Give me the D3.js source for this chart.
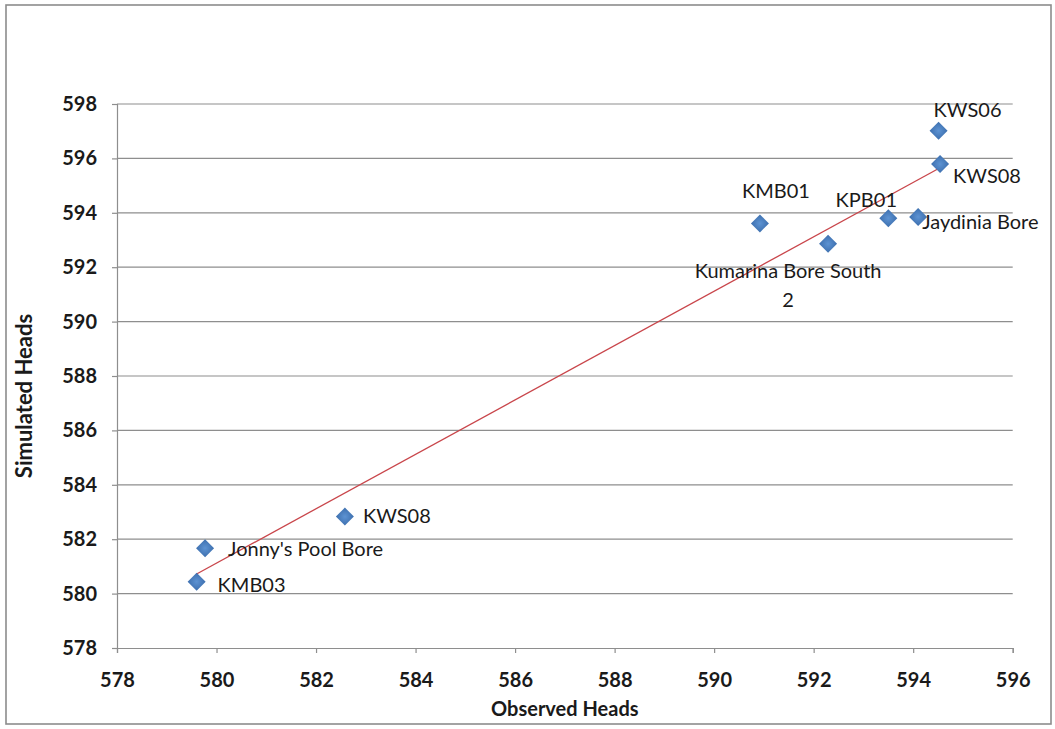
<!DOCTYPE html>
<html>
<head>
<meta charset="utf-8">
<script src="https://cdn.jsdelivr.net/npm/d3@7"></script>
<style>
  body { margin: 0; background: #fff; }
  svg { display: block; }
</style>
</head>
<body>
<svg id="chart" width="1055" height="729"></svg>
<script>
// Bore names with observed vs simulated groundwater heads
const wells = ["KMB03", "Jonny's Pool Bore", "KWS08", "KMB01", "Kumarina Bore South\n2", "KPB01", "Jaydinia Bore", "KWS06", "KWS08"];
const observed  = [579.60, 579.77, 582.58, 590.92, 592.29, 593.50, 594.10, 594.51, 594.54];
const simulated = [580.44, 581.67, 582.83, 593.61, 592.86, 593.80, 593.85, 597.02, 595.79];

const xTicks = [578, 580, 582, 584, 586, 588, 590, 592, 594, 596];
const yTicks = [578, 580, 582, 584, 586, 588, 590, 592, 594, 596, 598];

const xTitle = "Observed Heads";
const yTitle = "Simulated Heads";

// Where each bore label sits relative to its marker
const labelPlacement = [
  { anchor: "start",  dx: 21,  dy: 10 },
  { anchor: "start",  dx: 23,  dy: 8 },
  { anchor: "start",  dx: 18,  dy: 6 },
  { anchor: "middle", dx: 16,  dy: -25 },
  { anchor: "middle", dx: -40, dy: 34 },
  { anchor: "middle", dx: -22, dy: -11 },
  { anchor: "start",  dx: 4,   dy: 12 },
  { anchor: "middle", dx: 29,  dy: -14 },
  { anchor: "start",  dx: 13,  dy: 19 }
];

const svg = d3.select("#chart");
const W = 1055, H = 729;
const plot = { left: 117, right: 1012.7, top: 104, bottom: 648 };

const font = "Lato, 'Open Sans', sans-serif";
const gridColor = "#8e8e8e";
const textColor = "#1a1a1a";

// Outer chart frame
svg.append("rect")
  .attr("x", 6).attr("y", 5)
  .attr("width", W - 10).attr("height", H - 10)
  .attr("fill", "#fff")
  .attr("stroke", "#8c8c8c")
  .attr("stroke-width", 1.6);

const x = d3.scaleLinear().domain([578, 596]).range([plot.left, plot.right]);
const y = d3.scaleLinear().domain([578, 598]).range([plot.bottom, plot.top]);

// Horizontal gridlines
svg.append("g")
  .selectAll("line")
  .data(yTicks.slice(1))
  .join("line")
  .attr("x1", plot.left).attr("x2", plot.right)
  .attr("y1", d => y(d)).attr("y2", d => y(d))
  .attr("stroke", gridColor)
  .attr("stroke-width", 1.2);

// Y axis
const yAxis = svg.append("g")
  .attr("transform", `translate(${plot.left},0)`)
  .call(d3.axisLeft(y).tickValues(yTicks).tickSize(5).tickPadding(15).tickFormat(d3.format("d")));
yAxis.select(".domain").attr("stroke", gridColor).attr("stroke-width", 1.2);
yAxis.selectAll(".tick line").attr("stroke", gridColor).attr("stroke-width", 1.2);
yAxis.selectAll(".tick text")
  .attr("font-family", font).attr("font-size", 20).attr("font-weight", 700)
  .attr("fill", textColor);

// X axis
const xAxis = svg.append("g")
  .attr("transform", `translate(0,${plot.bottom})`)
  .call(d3.axisBottom(x).tickValues(xTicks).tickSize(5).tickPadding(20).tickFormat(d3.format("d")));
xAxis.select(".domain").attr("stroke", gridColor).attr("stroke-width", 1.2);
xAxis.selectAll(".tick line").attr("stroke", gridColor).attr("stroke-width", 1.2);
xAxis.selectAll(".tick text")
  .attr("font-family", font).attr("font-size", 20).attr("font-weight", 700)
  .attr("fill", textColor);

// Axis titles
svg.append("text")
  .attr("x", (plot.left + plot.right) / 2).attr("y", 716)
  .attr("text-anchor", "middle")
  .attr("font-family", font).attr("font-size", 20).attr("font-weight", 700)
  .attr("fill", textColor)
  .text(xTitle);

svg.append("text")
  .attr("transform", "translate(32,396) rotate(-90)")
  .attr("text-anchor", "middle")
  .attr("font-family", font).attr("font-size", 22).attr("font-weight", 700)
  .attr("fill", textColor)
  .text(yTitle);

// Linear least-squares trendline across the observed range
const mx = d3.mean(observed), my = d3.mean(simulated);
const sxy = d3.sum(observed, (v, i) => (v - mx) * (simulated[i] - my));
const sxx = d3.sum(observed, v => (v - mx) * (v - mx));
const slope = sxy / sxx, intercept = my - slope * mx;
const [xmin, xmax] = d3.extent(observed);
svg.append("line")
  .attr("x1", x(xmin)).attr("y1", y(slope * xmin + intercept))
  .attr("x2", x(xmax)).attr("y2", y(slope * xmax + intercept))
  .attr("stroke", "#c9464b")
  .attr("stroke-width", 1.3);

// Diamond markers
const defs = svg.append("defs");
const grad = defs.append("radialGradient").attr("id", "markerFill");
grad.append("stop").attr("offset", "0%").attr("stop-color", "#5d93d3");
grad.append("stop").attr("offset", "100%").attr("stop-color", "#3d6fae");

const points = observed.map((v, i) => ({ name: wells[i], ox: v, sy: simulated[i], place: labelPlacement[i] }));
const diamond = "M0,-9L9,0L0,9L-9,0Z";

svg.append("g")
  .selectAll("path")
  .data(points)
  .join("path")
  .attr("d", diamond)
  .attr("transform", d => `translate(${x(d.ox)},${y(d.sy)})`)
  .attr("fill", "url(#markerFill)");

// Bore labels
const labels = svg.append("g")
  .selectAll("text")
  .data(points)
  .join("text")
  .attr("font-family", font).attr("font-size", 20)
  .attr("fill", textColor)
  .attr("text-anchor", d => d.place.anchor)
  .attr("x", d => x(d.ox) + d.place.dx)
  .attr("y", d => y(d.sy) + d.place.dy);

labels.each(function(d) {
  const lines = d.name.split("\n");
  d3.select(this).selectAll("tspan")
    .data(lines)
    .join("tspan")
    .attr("x", x(d.ox) + d.place.dx)
    .attr("dy", (l, i) => i === 0 ? 0 : 29)
    .text(l => l);
});
</script>
</body>
</html>
